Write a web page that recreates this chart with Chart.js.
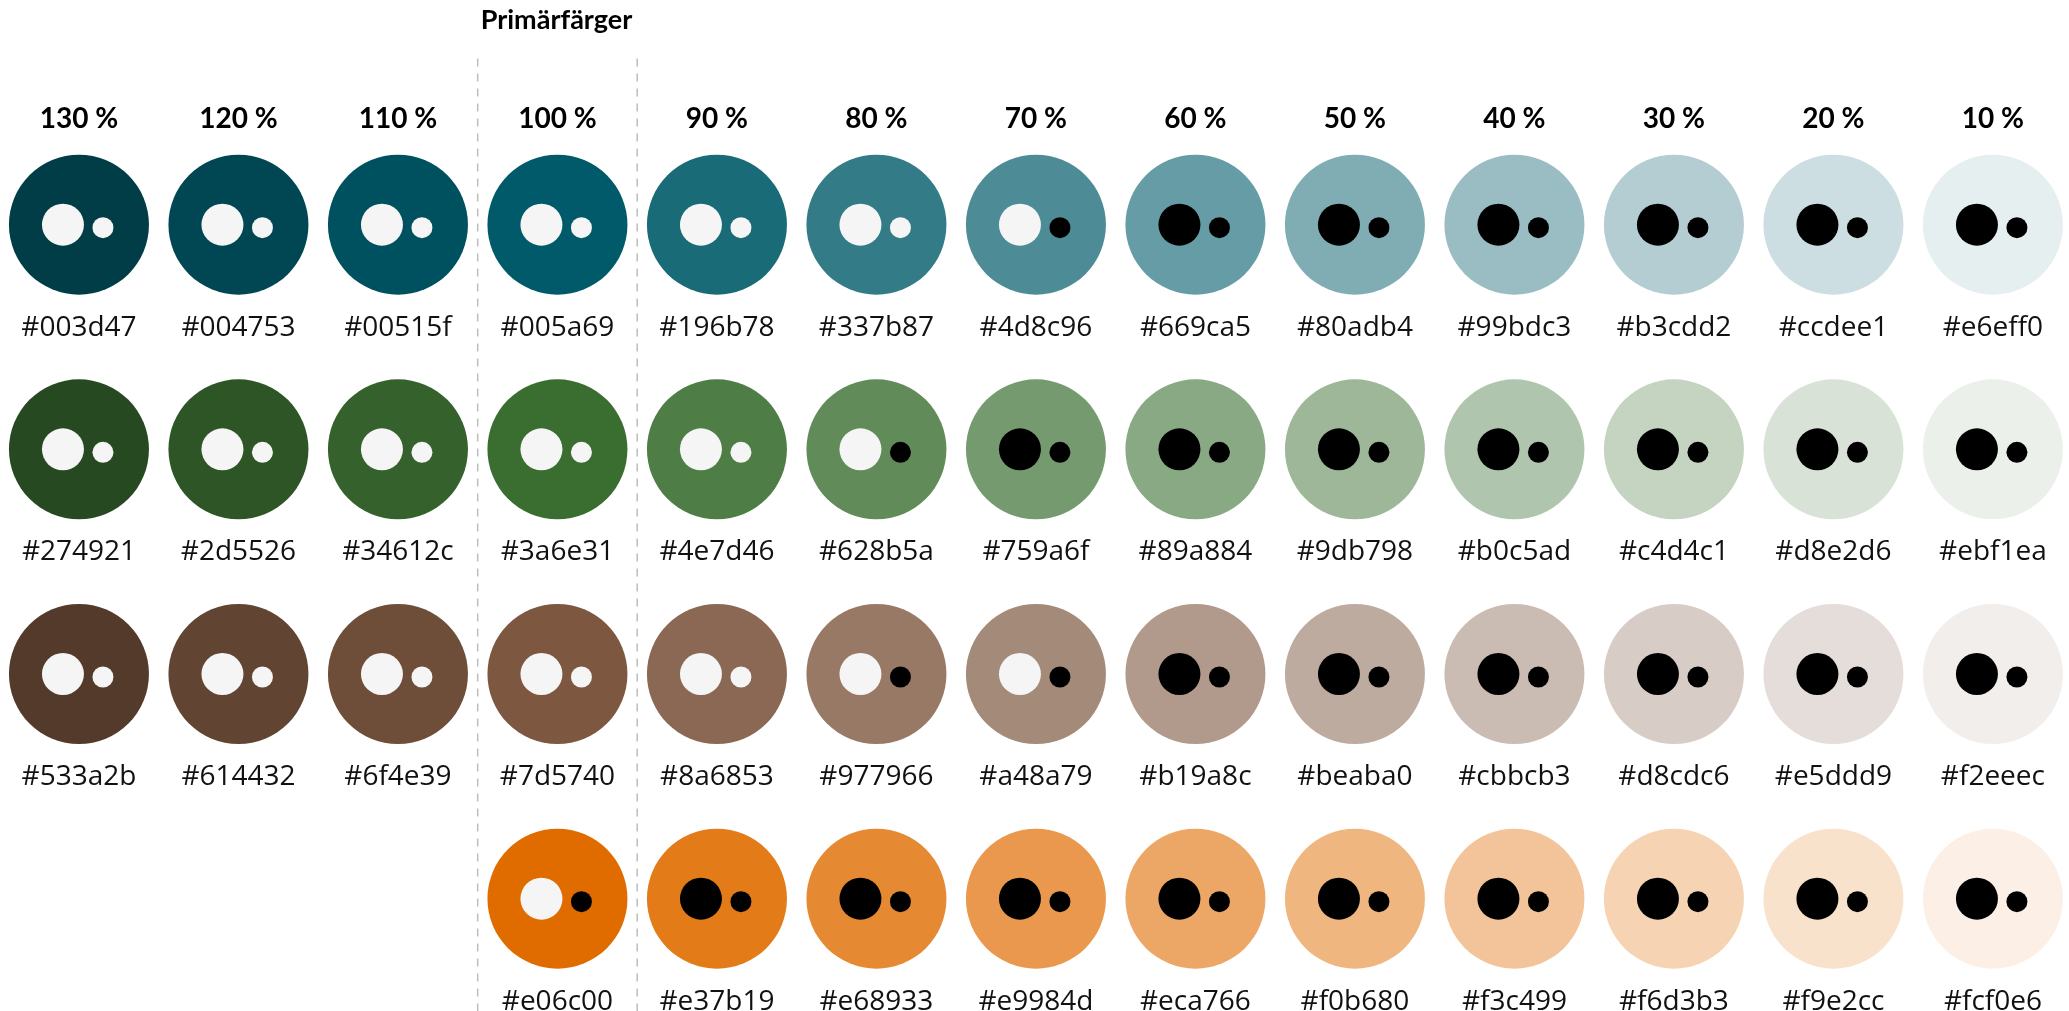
<!DOCTYPE html>
<html>
<head>
<meta charset="utf-8">
<script src="https://cdn.jsdelivr.net/npm/chart.js@4/dist/chart.umd.min.js"></script>
<style>
  html, body { margin: 0; padding: 0; background: #fff; }
  #wrap { width: 2069px; height: 1011px; position: relative; }
</style>
</head>
<body>
<div id="wrap"><canvas id="palette"></canvas></div>
<script>
// --- Données de la palette ---
const steps = ['130 %', '120 %', '110 %', '100 %', '90 %', '80 %', '70 %', '60 %', '50 %', '40 %', '30 %', '20 %', '10 %'];
const primaryStep = 3; // colonne "100 %"
const titleText = 'Primärfärger';

const tealHex   = ['#003d47', '#004753', '#00515f', '#005a69', '#196b78', '#337b87', '#4d8c96', '#669ca5', '#80adb4', '#99bdc3', '#b3cdd2', '#ccdee1', '#e6eff0'];
const greenHex  = ['#274921', '#2d5526', '#34612c', '#3a6e31', '#4e7d46', '#628b5a', '#759a6f', '#89a884', '#9db798', '#b0c5ad', '#c4d4c1', '#d8e2d6', '#ebf1ea'];
const brownHex  = ['#533a2b', '#614432', '#6f4e39', '#7d5740', '#8a6853', '#977966', '#a48a79', '#b19a8c', '#beaba0', '#cbbcb3', '#d8cdc6', '#e5ddd9', '#f2eeec'];
const orangeHex = [null, null, null, '#e06c00', '#e37b19', '#e68933', '#e9984d', '#eca766', '#f0b680', '#f3c499', '#f6d3b3', '#f9e2cc', '#fcf0e6'];
const rowsHex = [tealHex, greenHex, brownHex, orangeHex];

// Couleur des "yeux" : w = clair, b = noir (grand point / petit point)
const bigDot   = ['wwwwwwwbbbbbb', 'wwwwwwbbbbbbb', 'wwwwwwwbbbbbb', '----bbbbbbbbb'];
const smallDot = ['wwwwwwbbbbbbb', 'wwwwwbbbbbbbb', 'wwwwwbbbbbbbb', '---bbbbbbbbbb'];

const LIGHT = '#f5f5f5';
const DARK = '#000000';
const FONT_BOLD = 'Lato, "Open Sans", sans-serif';
const FONT_HEX = '"Open Sans", Lato, sans-serif';

// --- Construction des points ---
const points = [];
const fills = [];
const eyes = [];
rowsHex.forEach((row, r) => {
    row.forEach((hex, c) => {
        if (!hex) return;
        points.push({ x: c, y: r });
        fills.push(hex);
        eyes.push({
            hex: hex,
            big: bigDot[r][c] === 'b' ? DARK : LIGHT,
            small: smallDot[r][c] === 'b' ? DARK : LIGHT
        });
    });
});

// --- Plugin : yeux, étiquettes et titre ---
const swatchDecor = {
    id: 'swatchDecor',
    afterDatasetsDraw(chart) {
        const ctx = chart.ctx;
        const xs = chart.scales.x;
        const ys = chart.scales.y;
        const meta = chart.getDatasetMeta(2);

        ctx.save();
        ctx.textAlign = 'center';
        ctx.textBaseline = 'alphabetic';
        // yeux + codes hex
        meta.data.forEach((el, i) => {
            const e = eyes[i];
            ctx.fillStyle = e.big;
            ctx.beginPath();
            ctx.arc(el.x - 16, el.y, 21, 0, Math.PI * 2);
            ctx.fill();
            ctx.fillStyle = e.small;
            ctx.beginPath();
            ctx.arc(el.x + 24, el.y + 3, 10.5, 0, Math.PI * 2);
            ctx.fill();

            ctx.fillStyle = '#111';
            ctx.font = '400 28px ' + FONT_HEX;
            ctx.fillText(e.hex, el.x, el.y + 111);
        });

        // pourcentages
        ctx.fillStyle = '#000';
        ctx.font = '700 28px ' + FONT_BOLD;
        const yPct = ys.getPixelForValue(0) - 97;
        steps.forEach((s, c) => ctx.fillText(s, xs.getPixelForValue(c), yPct));

        // titre
        ctx.font = '700 27px ' + FONT_BOLD;
        ctx.textAlign = 'left';
        ctx.fillText(titleText, xs.getPixelForValue(primaryStep - 0.5) + 3, 29);
        ctx.restore();
    }
};

const dashStyle = {
    type: 'line',
    borderColor: '#bdbdbd',
    borderWidth: 1.5,
    borderDash: [8, 7],
    pointRadius: 0,
    fill: false
};

new Chart(document.getElementById('palette'), {
    type: 'scatter',
    data: {
        datasets: [
            Object.assign({ data: [{ x: primaryStep - 0.5, y: -0.74 }, { x: primaryStep - 0.5, y: 3.5 }] }, dashStyle),
            Object.assign({ data: [{ x: primaryStep + 0.5, y: -0.74 }, { x: primaryStep + 0.5, y: 3.5 }] }, dashStyle),
            {
                data: points,
                pointRadius: 70,
                pointHoverRadius: 70,
                pointBorderWidth: 0,
                pointBackgroundColor: fills,
                pointBorderColor: fills
            }
        ]
    },
    options: {
        responsive: true,
        maintainAspectRatio: false,
        animation: false,
        layout: { padding: 0, autoPadding: false },
        plugins: { legend: { display: false }, tooltip: { enabled: false } },
        scales: {
            x: { type: 'linear', min: -0.495, max: 12.477, display: false },
            y: { type: 'linear', min: -1, max: 3.5, reverse: true, display: false }
        }
    },
    plugins: [swatchDecor]
});
</script>
</body>
</html>
